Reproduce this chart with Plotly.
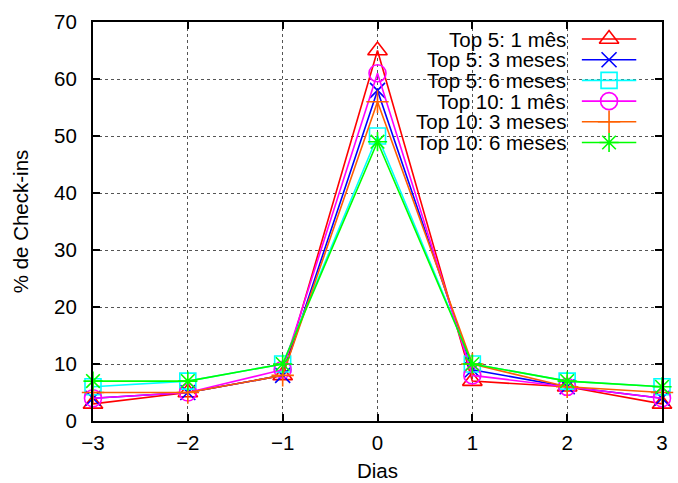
import plotly.graph_objects as go

dias = [-3, -2, -1, 0, 1, 2, 3]
series_names = ["Top 5: 1 mês", "Top 5: 3 meses", "Top 5: 6 meses",
                "Top 10: 1 mês", "Top 10: 3 meses", "Top 10: 6 meses"]
top5_1 = [3, 5, 8, 65, 7, 6, 3]
top5_3 = [4, 5, 8, 58, 9, 6, 4]
top5_6 = [6, 7, 10, 50, 10, 7, 6]
top10_1 = [4, 5, 9, 61, 8, 6, 4]
top10_3 = [5, 5, 8, 56, 10, 6, 5]
top10_6 = [7, 7, 10, 49, 10, 7, 6]
values = [top5_1, top5_3, top5_6, top10_1, top10_3, top10_6]
x_ticks = [-3, -2, -1, 0, 1, 2, 3]
x_tick_labels = ["−3", "−2", "−1", "0", "1", "2", "3"]
y_ticks = [0, 10, 20, 30, 40, 50, 60, 70]

colors = ["#ff0000", "#0000ff", "#00ffff", "#ff00ff", "#ff6000", "#00ff00"]
symbols = ["triangle-up-open", "x-thin-open", "square-open", "circle-open",
           "cross-thin-open", "asterisk-open"]
sizes = [17, 15, 16, 17, 16, 16]

W, H = 678, 483
L, R, T, B = 93, 668, 22, 421
FONT = "Liberation Sans, Arial, Helvetica, sans-serif"
FS = 20.5

fig = go.Figure()
for name, ys, c, s, sz in zip(series_names, values, colors, symbols, sizes):
    fig.add_trace(go.Scatter(
        x=dias, y=ys, mode="lines+markers", name=name,
        line=dict(color=c, width=1.6),
        marker=dict(symbol=s, size=sz, color=c, line=dict(color=c, width=1.6)),
        cliponaxis=False, showlegend=False))

# manual gnuplot-style legend (text, then line sample with marker)
row0, dy = 39, 20.7
text_right = 573
samp_l, samp_r = 587, 642
annotations = []
for i, (name, c, s, sz) in enumerate(zip(series_names, colors, symbols, sizes)):
    yy = row0 + i * dy
    fig.add_trace(go.Scatter(
        x=[samp_l, samp_r], y=[yy, yy], xaxis="x2", yaxis="y2", mode="lines",
        line=dict(color=c, width=1.6), showlegend=False, hoverinfo="skip",
        cliponaxis=False))
    fig.add_trace(go.Scatter(
        x=[(samp_l + samp_r) / 2], y=[yy], xaxis="x2", yaxis="y2", mode="markers",
        marker=dict(symbol=s, size=sz, color=c, line=dict(color=c, width=1.6)),
        showlegend=False, hoverinfo="skip", cliponaxis=False))
    annotations.append(dict(
        x=text_right, y=yy, xref="x2", yref="y2", text=name, showarrow=False,
        xanchor="right", yanchor="middle", font=dict(family=FONT, size=FS, color="black")))

annotations.append(dict(x=0.5, y=-(470 - B) / (B - T), xref="paper", yref="paper",
                        text="Dias", showarrow=False, xanchor="center", yanchor="middle",
                        font=dict(family=FONT, size=FS, color="black")))
annotations.append(dict(x=-(L - 20) / (R - L), y=0.5, xref="paper", yref="paper",
                        text="% de Check-ins", showarrow=False, textangle=-90,
                        xanchor="center", yanchor="middle",
                        font=dict(family=FONT, size=FS, color="black")))

axis_common = dict(showline=True, linecolor="black", linewidth=2, mirror="ticks",
                   ticks="inside", ticklen=7, tickwidth=1.5, tickcolor="black",
                   showgrid=True, gridcolor="#555555", griddash="dot", gridwidth=1,
                   zeroline=False, tickfont=dict(size=FS))

fig.update_layout(
    width=W, height=H,
    margin=dict(l=L, r=W - R, t=T, b=H - B, pad=0),
    paper_bgcolor="white", plot_bgcolor="white",
    font=dict(family=FONT, size=FS, color="black"),
    xaxis=dict(range=[-3, 3], tickvals=x_ticks, ticktext=x_tick_labels,
               ticklabelstandoff=2, **axis_common),
    yaxis=dict(range=[0, 70], tickvals=y_ticks, ticklabelstandoff=10, **axis_common),
    xaxis2=dict(range=[L, R], overlaying="x", visible=False, fixedrange=True),
    yaxis2=dict(range=[B, T], overlaying="y", visible=False, fixedrange=True),
    annotations=annotations,
    showlegend=False,
)

fig.write_html("out.html")
